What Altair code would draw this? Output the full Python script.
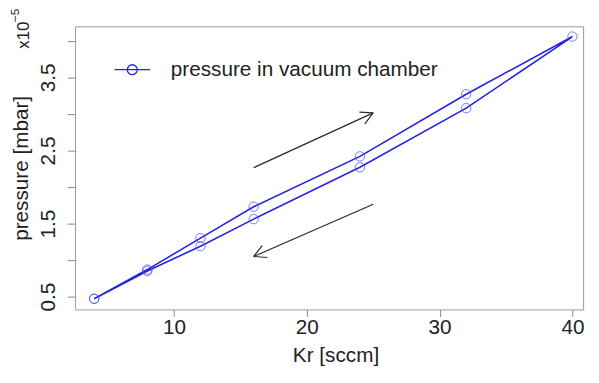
import math
import altair as alt
import pandas as pd

# ---- data (pressure in units of 1e-5 mbar) ----
kr_up = [4, 8, 12, 16, 24, 32, 40]
p_up = [0.47, 0.87, 1.30, 1.73, 2.42, 3.27, 4.06]
kr_down = [32, 24, 16, 12, 8, 4]
p_down = [3.08, 2.27, 1.56, 1.19, 0.85, 0.47]
series_name = "pressure in vacuum chamber"

x_ticks = [10, 20, 30, 40]
y_ticks = [0.5, 1.0, 1.5, 2.0, 2.5, 3.0, 3.5, 4.0]

# arrow annotations (data coordinates): start -> end
arrow_x1 = [16.0, 25.0]
arrow_y1 = [2.265, 1.765]
arrow_x2 = [25.0, 16.0]
arrow_y2 = [3.015, 1.049]

# ---- layout ----
X_DOM = [2.56, 40.8]
Y_DOM = [0.324, 4.2]
W, H = 515, 287
PX_X = W / (X_DOM[1] - X_DOM[0])
PX_Y = H / (Y_DOM[1] - Y_DOM[0])
FONT = "Liberation Sans"
BLUE = "#2424DD"
TXT = "#222222"

kr = kr_up + kr_down
p = p_up + p_down
df = pd.DataFrame({"kr": kr, "p": p, "idx": list(range(len(kr))),
                   "series": [series_name] * len(kr)})

# arrow segments (shaft + two head strokes)
segs = []
head_len, head_ang = 14.0, math.radians(28)
for xa, ya, xb, yb in zip(arrow_x1, arrow_y1, arrow_x2, arrow_y2):
    segs.append((xa, ya, xb, yb))
    dx = (xb - xa) * PX_X
    dy = (yb - ya) * PX_Y
    a = math.atan2(dy, dx)
    for s in (1, -1):
        ang = a + math.pi + s * head_ang
        hx = xb + head_len * math.cos(ang) / PX_X
        hy = yb + head_len * math.sin(ang) / PX_Y
        segs.append((xb, yb, hx, hy))
arrows_df = pd.DataFrame(segs, columns=["x1", "y1", "x2", "y2"])

xscale = alt.Scale(domain=X_DOM, nice=False, zero=False)
yscale = alt.Scale(domain=Y_DOM, nice=False, zero=False)

X_AX = alt.Axis(values=x_ticks, title="Kr [sccm]", grid=False, domain=False,
                tickColor="#888888", tickSize=7, labelFont=FONT, labelFontSize=21,
                labelColor=TXT, labelPadding=0, titleFont=FONT,
                titleFontSize=21, titleFontWeight="normal", titleColor=TXT,
                titleX=264, titleY=53, titleBaseline="alphabetic", titleAlign="center")
Y_AX = alt.Axis(values=y_ticks, title="pressure [mbar]", grid=False, domain=False,
                tickColor="#888888", tickSize=8, labelFont=FONT, labelFontSize=21,
                labelColor=TXT, labelAngle=270, labelAlign="center",
                labelBaseline="alphabetic", labelPadding=13,
                labelExpr="datum.value % 1 == 0.5 ? format(datum.value, '.1f') : ''",
                titleFont=FONT, titleFontSize=21, titleFontWeight="normal",
                titleColor=TXT, titleAngle=270, titleX=-48, titleY=143.5,
                titleAlign="center", titleBaseline="alphabetic")

LEG_PATH = ("M-1,0H1M0.28,0A0.28,0.28,0,1,1,-0.28,0"
            "A0.28,0.28,0,1,1,0.28,0")

line = alt.Chart(df).mark_line(strokeWidth=1.6).encode(
    x=alt.X("kr:Q", scale=xscale, axis=X_AX),
    y=alt.Y("p:Q", scale=yscale, axis=Y_AX),
    order=alt.Order("idx:Q"),
    color=alt.Color("series:N", scale=alt.Scale(range=[BLUE]),
                    legend=alt.Legend(title=None, orient="none", legendX=39,
                                      legendY=25, symbolType=LEG_PATH,
                                      symbolSize=1296, symbolStrokeWidth=1.3,
                                      symbolStrokeColor=BLUE,
                                      symbolFillColor="transparent",
                                      labelFont=FONT, labelFontSize=21,
                                      labelColor=TXT, labelOffset=20,
                                      labelLimit=500,
                                      padding=0, symbolOffset=0)),
)

points = alt.Chart(df).mark_point(shape="circle", filled=False, size=90,
                                  strokeWidth=1, color="#4A4AEE",
                                  opacity=0.75).encode(
    x=alt.X("kr:Q", scale=xscale, axis=X_AX),
    y=alt.Y("p:Q", scale=yscale, axis=Y_AX),
)

arrows = alt.Chart(arrows_df).mark_rule(color="#2a2a2a", strokeWidth=1.2).encode(
    x=alt.X("x1:Q", scale=xscale, axis=X_AX),
    y=alt.Y("y1:Q", scale=yscale, axis=Y_AX),
    x2="x2:Q",
    y2="y2:Q",
)

exp_base = alt.Chart(pd.DataFrame({"t": ["x10"]})).mark_text(
    font=FONT, fontSize=17, angle=270, align="center", baseline="alphabetic",
    color=TXT).encode(text="t:N", x=alt.value(-47), y=alt.value(9))
exp_pow = alt.Chart(pd.DataFrame({"t": ["\u22125"]})).mark_text(
    font=FONT, fontSize=12, angle=270, align="center", baseline="alphabetic",
    color=TXT).encode(text="t:N", x=alt.value(-57), y=alt.value(-11))

chart = alt.layer(arrows, line, points, exp_base, exp_pow).properties(
    width=W, height=H,
    padding={"left": 68, "top": 16, "right": 8, "bottom": 72},
    autosize=alt.AutoSizeParams(type="none"),
).configure_view(stroke="#999999", strokeWidth=1)

chart.save("out.html", embed_options={"renderer": "svg", "actions": False})
